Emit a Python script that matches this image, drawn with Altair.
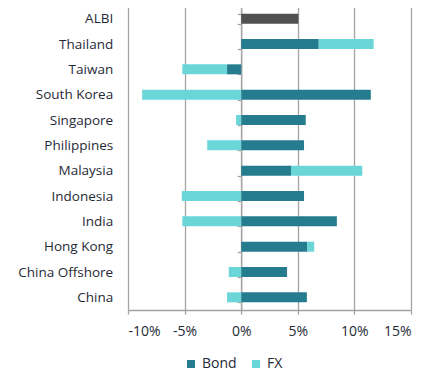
import altair as alt
import pandas as pd

categories = ["ALBI", "Thailand", "Taiwan", "South Korea", "Singapore", "Philippines",
              "Malaysia", "Indonesia", "India", "Hong Kong", "China Offshore", "China"]
bond = [5.05, 6.85, -1.25, 11.45, 5.7, 5.55, 4.4, 5.55, 8.45, 5.85, 4.05, 5.8]
fx = [0.0, 4.85, -3.95, -8.75, -0.45, -3.0, 6.3, -5.25, -5.2, 0.6, -1.1, -1.25]
x_ticks = [-10, -5, 0, 5, 10, 15]

rows = []
for c, b, f in zip(categories, bond, fx):
    if c == "ALBI":
        rows.append({"cat": c, "type": "ALBI", "value": b, "ord": 0})
    else:
        rows.append({"cat": c, "type": "Bond", "value": b, "ord": 0})
        rows.append({"cat": c, "type": "FX", "value": f, "ord": 1})
df = pd.DataFrame(rows)

text_color = "#1f2a36"
grid_color = "#a3a3a3"
FONT = "Open Sans"

chart = alt.Chart(df).mark_bar(size=10).encode(
    x=alt.X("value:Q", stack="zero",
            scale=alt.Scale(domain=[-10, 15], nice=False, zero=False),
            axis=alt.Axis(values=x_ticks, labelExpr="datum.value + '%'", title=None,
                          grid=True, gridColor=grid_color, gridWidth=1.3,
                          domainColor=grid_color, domainWidth=1.3,
                          tickColor=grid_color, tickWidth=1.3, tickSize=4,
                          labelFontSize=14, labelColor=text_color, labelFont=FONT,
                          labelPadding=10)),
    y=alt.Y("cat:N", sort=categories,
            scale=alt.Scale(paddingInner=0.6, paddingOuter=0.3),
            axis=alt.Axis(title=None, offset=-113.2, tickBand="extent", tickSize=4,
                          tickColor=grid_color, tickWidth=1.3,
                          domainColor=grid_color, domainWidth=1.3,
                          labelPadding=124.5, labelFontSize=13.5,
                          labelColor=text_color, labelFont=FONT, grid=False)),
    color=alt.Color("type:N",
                    scale=alt.Scale(domain=["Bond", "FX", "ALBI"],
                                    range=["#267c8f", "#6ad6d8", "#505050"]),
                    legend=alt.Legend(values=["Bond", "FX"], title=None, orient="none",
                                      legendX=56, legendY=351, direction="horizontal",
                                      symbolType="square", symbolSize=64,
                                      symbolStrokeWidth=0, labelFontSize=14,
                                      labelColor=text_color, labelFont=FONT,
                                      columnPadding=12, labelOffset=4, padding=0)),
    order=alt.Order("ord:Q"),
).properties(
    width=283, height=304,
    autosize=alt.AutoSizeParams(type="none"),
    padding={"left": 120, "top": -2, "right": 17, "bottom": 63},
).configure_view(stroke=None)

chart.save("out.html", embed_options={"renderer": "svg", "actions": False})
